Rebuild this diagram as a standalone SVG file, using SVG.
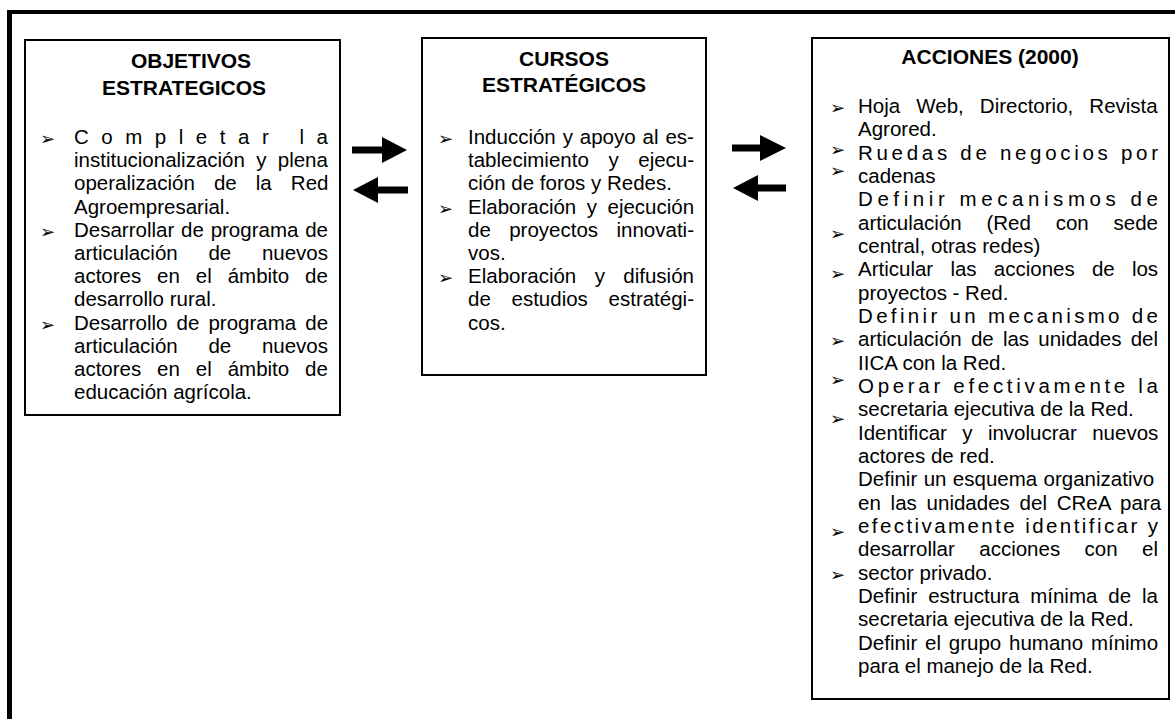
<svg xmlns="http://www.w3.org/2000/svg" width="1175" height="719" viewBox="0 0 1175 719">
<style>
.box{fill:#fff;stroke:#000;stroke-width:2}
.h{font-family:"Liberation Sans",Arial,sans-serif;font-weight:bold;font-size:21px;text-anchor:middle;fill:#000}
.t{font-family:"Liberation Sans",Arial,sans-serif;font-size:20.5px;fill:#000}
.b{font-family:"DejaVu Sans",sans-serif;font-size:18px;fill:#000}
.arr{fill:#000}
</style>
<rect width="1175" height="719" fill="#fff"/>
<g id="frame">
<rect x="7" y="10" width="1168" height="4" fill="#000"/>
<rect x="7" y="10" width="5" height="709" fill="#000"/>
</g>
<g id="objetivos">
<rect class="box" x="25" y="40" width="315" height="375"/>
<text class="h" x="191" y="68">OBJETIVOS</text>
<text class="h" x="184" y="95">ESTRATEGICOS</text>
<text class="b" x="40" y="145">➢</text>
<text class="b" x="40" y="237.8">➢</text>
<text class="b" x="40" y="330.6">➢</text>
<text class="t" x="74" y="144" textLength="254" lengthAdjust="spacing">Completar la</text>
<text class="t" x="74" y="167.2" word-spacing="5.6">institucionalización y plena</text>
<text class="t" x="74" y="190.4" word-spacing="13.4">operalización de la Red</text>
<text class="t" x="74" y="213.6">Agroempresarial.</text>
<text class="t" x="74" y="236.8" word-spacing="1.1">Desarrollar de programa de</text>
<text class="t" x="74" y="260" word-spacing="25">articulación de nuevos</text>
<text class="t" x="74" y="283.2" word-spacing="10.2">actores en el ámbito de</text>
<text class="t" x="74" y="306.4">desarrollo rural.</text>
<text class="t" x="74" y="329.6" word-spacing="3.4">Desarrollo de programa de</text>
<text class="t" x="74" y="352.8" word-spacing="25">articulación de nuevos</text>
<text class="t" x="74" y="376" word-spacing="10.2">actores en el ámbito de</text>
<text class="t" x="74" y="399.2">educación agrícola.</text>
</g>
<g id="cursos">
<rect class="box" x="422" y="38" width="284" height="337"/>
<text class="h" x="564" y="66">CURSOS</text>
<text class="h" x="564" y="92">ESTRATÉGICOS</text>
<text class="b" x="438" y="145">➢</text>
<text class="b" x="438" y="214.6">➢</text>
<text class="b" x="438" y="284.2">➢</text>
<text class="t" x="468" y="144" word-spacing="1.2">Inducción y apoyo al es-</text>
<text class="t" x="468" y="167.2" word-spacing="13.9">tablecimiento y ejecu-</text>
<text class="t" x="468" y="190.4">ción de foros y Redes.</text>
<text class="t" x="468" y="213.6" word-spacing="4.8">Elaboración y ejecución</text>
<text class="t" x="468" y="236.8" word-spacing="12.7">de proyectos innovati-</text>
<text class="t" x="468" y="260">vos.</text>
<text class="t" x="468" y="283.2" word-spacing="12.7">Elaboración y difusión</text>
<text class="t" x="468" y="306.4" word-spacing="15">de estudios estratégi-</text>
<text class="t" x="468" y="329.6">cos.</text>
</g>
<g id="acciones">
<rect class="box" x="812" y="38" width="357" height="661"/>
<text class="h" x="990" y="64">ACCIONES (2000)</text>
<text class="b" x="830" y="114">➢</text>
<text class="b" x="830" y="155.5">➢</text>
<text class="b" x="830" y="177">➢</text>
<text class="b" x="830" y="239.7">➢</text>
<text class="b" x="830" y="280.3">➢</text>
<text class="b" x="830" y="347.3">➢</text>
<text class="b" x="830" y="386">➢</text>
<text class="b" x="830" y="424.7">➢</text>
<text class="b" x="830" y="538">➢</text>
<text class="b" x="830" y="580.7">➢</text>
<text class="t" x="858" y="113" word-spacing="10.4">Hoja Web, Directorio, Revista</text>
<text class="t" x="858" y="136.3">Agrored.</text>
<text class="t" x="858" y="159.7" textLength="300" lengthAdjust="spacing">Ruedas de negocios por</text>
<text class="t" x="858" y="183">cadenas</text>
<text class="t" x="858" y="206.3" textLength="300" lengthAdjust="spacing">Definir mecanismos de</text>
<text class="t" x="858" y="229.7" word-spacing="19.1">articulación (Red con sede</text>
<text class="t" x="858" y="253">central, otras redes)</text>
<text class="t" x="858" y="276.3" word-spacing="11.5">Articular las acciones de los</text>
<text class="t" x="858" y="299.7">proyectos - Red.</text>
<text class="t" x="858" y="323" textLength="300" lengthAdjust="spacing">Definir un mecanismo de</text>
<text class="t" x="858" y="346.3" word-spacing="3.5">articulación de las unidades del</text>
<text class="t" x="858" y="369.7">IICA con la Red.</text>
<text class="t" x="858" y="393" textLength="300" lengthAdjust="spacing">Operar efectivamente la</text>
<text class="t" x="858" y="416.3">secretaria ejecutiva de la Red.</text>
<text class="t" x="858" y="439.7" word-spacing="9.7">Identificar y involucrar nuevos</text>
<text class="t" x="858" y="463">actores de red.</text>
<text class="t" x="858" y="486.3" word-spacing="0.7">Definir un esquema organizativo</text>
<text class="t" x="858" y="509.7" word-spacing="4.1">en las unidades del CReA para</text>
<text class="t" x="858" y="533" textLength="300" lengthAdjust="spacing">efectivamente identificar y</text>
<text class="t" x="858" y="556.3" word-spacing="18.7">desarrollar acciones con el</text>
<text class="t" x="858" y="579.7">sector privado.</text>
<text class="t" x="858" y="603" word-spacing="5.2">Definir estructura mínima de la</text>
<text class="t" x="858" y="626.3">secretaria ejecutiva de la Red.</text>
<text class="t" x="858" y="649.7" word-spacing="2.1">Definir el grupo humano mínimo</text>
<text class="t" x="858" y="673">para el manejo de la Red.</text>
</g>
<g id="connectors">
<path class="arr" d="M352,146.5 H382 V137 L407,150 L382,163 V153.5 H352 Z"/>
<path class="arr" d="M408,186.5 H378 V177 L353,190 L378,203 V193.5 H408 Z"/>
<path class="arr" d="M732,144.5 H760 V135 L786,148 L760,161 V151.5 H732 Z"/>
<path class="arr" d="M786,184.5 H758 V175 L733,188 L758,201 V191.5 H786 Z"/>
</g>
</svg>
